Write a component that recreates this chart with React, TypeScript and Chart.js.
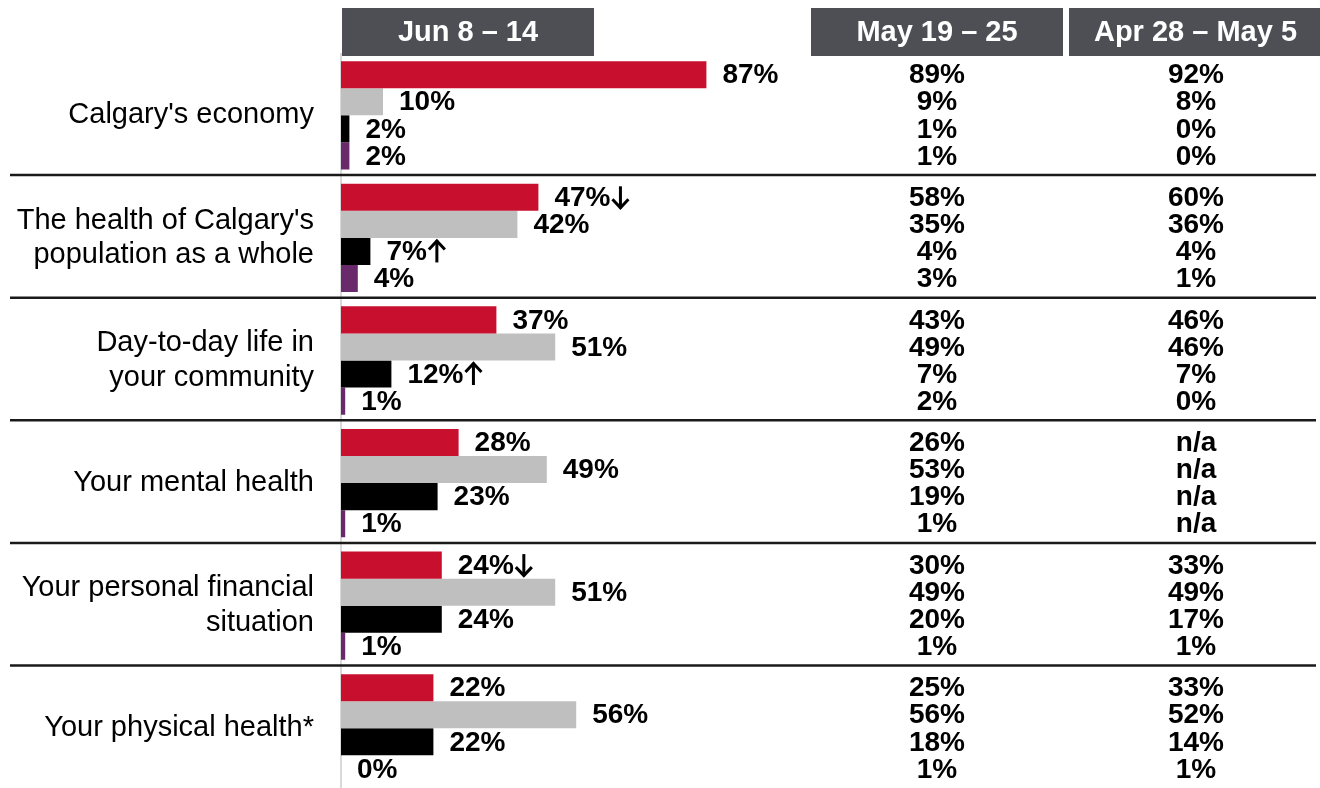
import React, { useEffect, useRef } from "react";
import { Chart, registerables } from "chart.js";

Chart.register(...registerables);

const categories: (string | string[])[] = [
  "Calgary's economy",
  ["The health of Calgary's", "population as a whole"],
  ["Day-to-day life in", "your community"],
  "Your mental health",
  ["Your personal financial", "situation"],
  "Your physical health*",
];

// Current week (Jun 8 – 14), one array per response series
const seriesRed = [87, 47, 37, 28, 24, 22];
const seriesGrey = [10, 42, 51, 49, 51, 56];
const seriesBlack = [2, 7, 12, 23, 24, 22];
const seriesPurple = [2, 4, 1, 1, 1, 0];

// significance markers for the current week ("up" / "down")
const markRed = ["", "down", "", "", "down", ""];
const markGrey = ["", "", "", "", "", ""];
const markBlack = ["", "up", "up", "", "", ""];
const markPurple = ["", "", "", "", "", ""];

// Previous weeks
const may19Red = ["89%", "58%", "43%", "26%", "30%", "25%"];
const may19Grey = ["9%", "35%", "49%", "53%", "49%", "56%"];
const may19Black = ["1%", "4%", "7%", "19%", "20%", "18%"];
const may19Purple = ["1%", "3%", "2%", "1%", "1%", "1%"];

const apr28Red = ["92%", "60%", "46%", "n/a", "33%", "33%"];
const apr28Grey = ["8%", "36%", "46%", "n/a", "49%", "52%"];
const apr28Black = ["0%", "4%", "7%", "n/a", "17%", "14%"];
const apr28Purple = ["0%", "1%", "0%", "n/a", "1%", "1%"];

const headers = ["Jun 8 – 14", "May 19 – 25", "Apr 28 – May 5"];

const FONT = '"Liberation Sans", Arial, Helvetica, sans-serif';

function drawArrow(ctx: CanvasRenderingContext2D, x: number, y: number, dir: string) {
  const h = 22;
  const w = 18;
  const top = y - h / 2;
  const bot = y + h / 2;
  const cx = x + w / 2;
  ctx.save();
  ctx.strokeStyle = "#000000";
  ctx.lineWidth = 3;
  ctx.lineCap = "butt";
  ctx.lineJoin = "miter";
  ctx.beginPath();
  ctx.moveTo(cx, top);
  ctx.lineTo(cx, bot);
  ctx.stroke();
  ctx.beginPath();
  if (dir === "down") {
    ctx.moveTo(x + 1, bot - 9);
    ctx.lineTo(cx, bot - 0.5);
    ctx.lineTo(x + w - 1, bot - 9);
  } else {
    ctx.moveTo(x + 1, top + 9);
    ctx.lineTo(cx, top + 0.5);
    ctx.lineTo(x + w - 1, top + 9);
  }
  ctx.stroke();
  ctx.restore();
}

export default function App() {
  const ref = useRef<HTMLCanvasElement | null>(null);

  useEffect(() => {
    if (!ref.current) return;
    const marks = [markRed, markGrey, markBlack, markPurple];
    const mayCols = [may19Red, may19Grey, may19Black, may19Purple];
    const aprCols = [apr28Red, apr28Grey, apr28Black, apr28Purple];

    const overlay = {
      id: "overlay",
      afterDatasetsDraw(chart: any) {
        const ctx = chart.ctx as CanvasRenderingContext2D;
        const yScale = chart.scales.y;
        ctx.save();

        // headers
        const boxes = [
          [342, 594],
          [811, 1063],
          [1069, 1322],
        ];
        boxes.forEach((b, i) => {
          ctx.fillStyle = "#4d4f55";
          ctx.fillRect(b[0], 8, b[1] - b[0], 48);
          ctx.fillStyle = "#ffffff";
          ctx.font = `bold 29px ${FONT}`;
          ctx.textAlign = "center";
          ctx.textBaseline = "middle";
          ctx.fillText(headers[i], (b[0] + Math.min(b[1], 1322)) / 2, 33);
        });

        // separators
        ctx.strokeStyle = "#1a1a1a";
        ctx.lineWidth = 2.5;
        for (let j = 0; j < categories.length - 1; j++) {
          const y =
            (yScale.getPixelForValue(j) + yScale.getPixelForValue(j + 1)) / 2 - 1.5;
          ctx.beginPath();
          ctx.moveTo(10, y);
          ctx.lineTo(1316, y);
          ctx.stroke();
        }

        // value labels
        ctx.font = `bold 28px ${FONT}`;
        ctx.fillStyle = "#000000";
        ctx.textBaseline = "middle";
        chart.data.datasets.forEach((ds: any, i: number) => {
          const meta = chart.getDatasetMeta(i);
          meta.data.forEach((bar: any, j: number) => {
            const v = ds.data[j];
            const txt = `${v}%`;
            ctx.textAlign = "left";
            ctx.fillText(txt, bar.x + 16, bar.y + 1);
            if (marks[i][j]) {
              const w = ctx.measureText(txt).width;
              drawArrow(ctx, bar.x + 16 + w + 1, bar.y, marks[i][j]);
            }
            ctx.textAlign = "center";
            ctx.fillText(mayCols[i][j], 937, bar.y + 1);
            ctx.fillText(aprCols[i][j], 1196, bar.y + 1);
          });
        });
        ctx.restore();
      },
    };

    const chart = new Chart(ref.current, {
      type: "bar",
      data: {
        labels: categories as any,
        datasets: [
          { label: "Series 1", data: seriesRed, backgroundColor: "#c8102e" },
          { label: "Series 2", data: seriesGrey, backgroundColor: "#bfbfbf" },
          { label: "Series 3", data: seriesBlack, backgroundColor: "#000000" },
          { label: "Series 4", data: seriesPurple, backgroundColor: "#692a6c" },
        ],
      },
      options: {
        indexAxis: "y",
        responsive: false,
        maintainAspectRatio: false,
        animation: false,
        devicePixelRatio: 1,
        layout: { padding: { top: 54, bottom: 2, left: 0, right: 559 } },
        datasets: {
          bar: { barPercentage: 1, categoryPercentage: 0.883, borderWidth: 0 },
        } as any,
        plugins: {
          legend: { display: false },
          tooltip: { enabled: false },
        },
        scales: {
          x: { display: false, min: 0, max: 100 },
          y: {
            type: "category",
            position: "left",
            afterFit: (scale: any) => {
              scale.width = 341;
            },
            grid: { display: false, drawTicks: false },
            border: { display: true, color: "#d9d9d9", width: 2 },
            ticks: {
              padding: 27,
              color: "#000000",
              font: { family: FONT, size: 29, lineHeight: 1.2 },
            },
          },
        },
      },
      plugins: [overlay],
    });
    return () => chart.destroy();
  }, []);

  return (
    <div
      style={{
        position: "fixed",
        left: 0,
        top: 0,
        width: 1320,
        height: 788,
        overflow: "hidden",
        background: "#ffffff",
      }}
    >
      <canvas ref={ref} width={1320} height={834} style={{ display: "block" }} />
    </div>
  );
}
